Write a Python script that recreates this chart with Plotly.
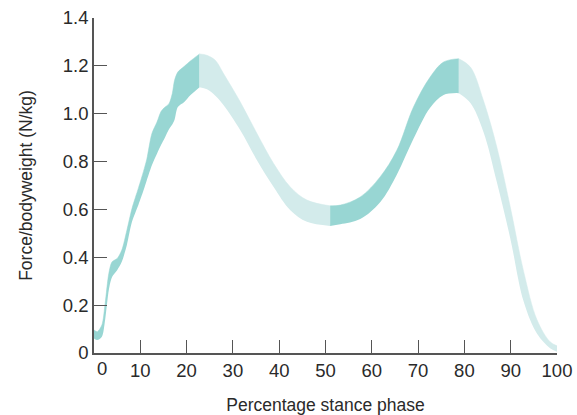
import plotly.graph_objects as go

# Stance-phase percentage and the band limits (upper / lower force per kg)
pct = [0, 0.7, 1.7, 2.4, 3.2, 3.9, 5.0, 6.0, 7.1, 8.2, 9.6, 10.7, 11.4, 12.5, 13.6,
       14.5, 15.3, 16.2, 16.9, 17.4, 18.1, 19.5, 20.8, 22.8,
       24.4, 26.2, 28.0, 31.6, 35.2, 38.8, 42.4, 46.0, 51.0,
       53.2, 57.5, 61.8, 65.4, 69.0, 72.6, 75.5, 78.8,
       81.3, 84.1, 87.0, 89.9, 92.8, 95.7, 98.5, 100]
upper = [0.096, 0.089, 0.117, 0.207, 0.333, 0.381, 0.395, 0.430, 0.513, 0.604, 0.690, 0.760, 0.810, 0.917, 0.965,
         1.010, 1.027, 1.042, 1.084, 1.140, 1.174, 1.198, 1.220, 1.250,
         1.244, 1.223, 1.167, 1.049, 0.917, 0.792, 0.694, 0.639, 0.615,
         0.618, 0.652, 0.736, 0.847, 1.028, 1.153, 1.216, 1.230,
         1.195, 1.056, 0.861, 0.611, 0.340, 0.138, 0.047, 0.030]
lower = [0.061, 0.054, 0.068, 0.138, 0.263, 0.318, 0.346, 0.381, 0.451, 0.548, 0.620, 0.680, 0.722, 0.785, 0.833,
         0.870, 0.900, 0.935, 0.955, 0.975, 1.028, 1.049, 1.077, 1.111,
         1.102, 1.075, 1.035, 0.931, 0.806, 0.694, 0.597, 0.548, 0.531,
         0.538, 0.560, 0.630, 0.745, 0.895, 1.025, 1.078, 1.086,
         1.045, 0.925, 0.715, 0.480, 0.215, 0.080, 0.020, 0.005]

# Phase boundaries (indices into pct), the shade of each phase and its curve smoothing
segment_edges = [0, 23, 32, 40, 48]
segment_colors = ["#98d6d3", "#d3ebeb", "#98d6d3", "#d3ebeb"]
segment_smoothing = [0.8, 1.0, 1.0, 1.0]

x_ticks = [10, 20, 30, 40, 50, 60, 70, 80, 90, 100]
y_ticks = [0, 0.2, 0.4, 0.6, 0.8, 1.0, 1.2, 1.4]
y_labels = ["0", "0.2", "0.4", "0.6", "0.8", "1.0", "1.2", "1.4"]

FONT = "Liberation Sans, Arial, sans-serif"
TEXT = "#2a2a2a"
AXIS = "#555555"
TICK_SIZE = 18.5
TITLE_SIZE = 17.5

fig = go.Figure()
for k, color in enumerate(segment_colors):
    a, b = segment_edges[k], segment_edges[k + 1] + 1
    xs = pct[a:b]
    sm = segment_smoothing[k]
    fig.add_trace(go.Scatter(x=xs, y=lower[a:b], mode="lines",
                             line=dict(width=0, color=color, shape="spline", smoothing=sm),
                             hoverinfo="skip", showlegend=False))
    fig.add_trace(go.Scatter(x=xs, y=upper[a:b], mode="lines", fill="tonexty",
                             fillcolor=color,
                             line=dict(width=0.5, color=color, shape="spline", smoothing=sm),
                             hoverinfo="skip", showlegend=False))

fig.update_layout(
    width=577, height=415,
    margin=dict(l=94, r=20, t=17.5, b=62),
    plot_bgcolor="white", paper_bgcolor="white",
    font=dict(family=FONT, size=TICK_SIZE, color=TEXT),
    xaxis=dict(range=[0, 100], tickvals=x_ticks, ticks="inside", ticklen=13,
               tickcolor=AXIS, tickwidth=1.3, showline=True, linecolor=AXIS, linewidth=1.5,
               showgrid=False, zeroline=False, automargin=False,
               tickfont=dict(size=TICK_SIZE, color=TEXT),
               title=dict(text="Percentage stance phase", font=dict(size=TITLE_SIZE, color=TEXT), standoff=20)),
    yaxis=dict(range=[0, 1.4], tickvals=y_ticks, ticktext=y_labels, ticks="inside", ticklen=13,
               tickcolor=AXIS, tickwidth=1.3, showline=True, linecolor=AXIS, linewidth=1.5,
               showgrid=False, zeroline=False, automargin=False,
               tickfont=dict(size=TICK_SIZE, color=TEXT),
               title=dict(text="Force/bodyweight (N/kg)", font=dict(size=TITLE_SIZE, color=TEXT), standoff=26)),
)

# The zero label on the x axis sits just right of the vertical axis
fig.add_annotation(x=0, y=0, xref="x", yref="paper", text="0", showarrow=False,
                   xanchor="center", yanchor="top", xshift=8, yshift=-3,
                   font=dict(size=TICK_SIZE, color=TEXT, family=FONT))

fig.write_html("out.html")
